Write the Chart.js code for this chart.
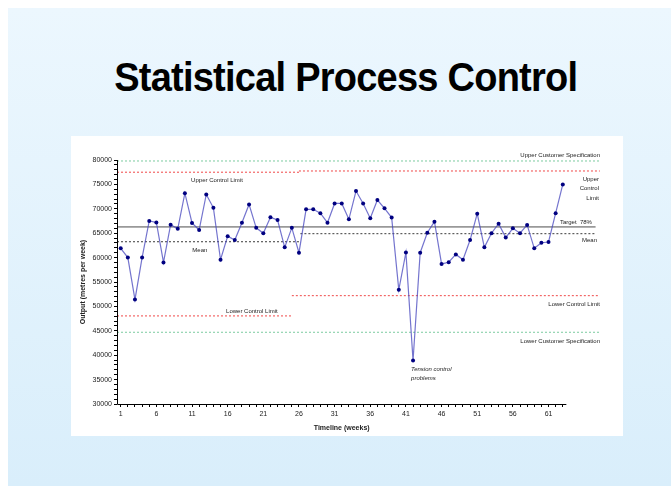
<!DOCTYPE html>
<html lang="en">
<head>
<meta charset="UTF-8">
<title>Statistical Process Control</title>
<script src="https://cdn.jsdelivr.net/npm/chart.js"></script>
<style>
    body { margin: 0; background: #fff; font-family: "Liberation Sans", Arial, sans-serif; }
    .slide { position: absolute; left: 8px; top: 8px; width: 663px; height: 478px;
             background: linear-gradient(#ecf7fe, #d9eefb); }
    .title { position: absolute; left: 0; top: 57px; width: 692px; text-align: center;
             font-size: 40px; line-height: 40px; font-weight: bold; color: #000; }
    .title span { display: inline-block; transform: scaleX(0.95); letter-spacing: -0.8px; }
    .box { position: absolute; left: 71px; top: 136px; width: 552px; height: 300px; background: #fff; }
</style>
</head>
<body>
<div class="slide"></div>
<div class="title"><span>Statistical Process Control</span></div>
<div class="box"><canvas id="spc"></canvas></div>
<script>
// weekly output, weeks 1..63
const output = [61900, 60000, 51400, 60000, 67500, 67200, 59000, 66750, 65900, 73200,
                67100, 65650, 72950, 70200, 59550, 64400, 63600, 67150, 70900, 66100,
                65000, 68250, 67700, 62100, 66100, 61000, 69900, 69900, 69100, 67150,
                71100, 71100, 67850, 73650, 71100, 68050, 71800, 70100, 68200, 53400,
                61050, 38900, 61000, 65100, 67350, 58700, 59050, 60650, 59550, 63600,
                69000, 62100, 65000, 66950, 64100, 66000, 65000, 66700, 61900, 63050,
                63200, 69100, 75000];
const weeks = output.map((v, i) => i + 1);

// x range of the plot and of the horizontal reference lines
const xMin = 0.48, xMax = 68.5, lastWeek = 63.5;
const upperSpec = 79800, lowerSpec = 44700;
const target = 66300;
const uclValues = [77500, 77750], uclSplit = 26;
const meanValues = [63250, 64900], meanSplit = 26;
const lclValues = [48050, 52200], lclSplit = 25;
const lineEnd = 68.2, innerEnd = 67.6;

function refLine(from, to, value, color, dash, width) {
    return {
        data: [{x: from, y: value}, {x: to, y: value}],
        borderColor: color, borderWidth: width || 1, borderDash: dash || [],
        pointRadius: 0, fill: false, order: 2
    };
}

const green = '#7ccba0', red = '#f04848', meanCol = '#3a3a3a';

const labelFont = '6px "Liberation Sans", Arial, sans-serif';
const textPlugin = {
    id: 'spcText',
    afterDatasetsDraw(chart) {
        const {ctx, chartArea} = chart;
        const x = chart.scales.x, y = chart.scales.y;
        const right = chartArea.right - 2;
        ctx.save();
        ctx.fillStyle = '#222';
        ctx.font = labelFont;
        ctx.textBaseline = 'middle';

        ctx.textAlign = 'right';
        ctx.fillText('Upper Customer Specification', right, y.getPixelForValue(upperSpec) - 6);
        ctx.fillText('Upper', right - 1, y.getPixelForValue(uclValues[1]) + 8);
        ctx.fillText('Control', right - 1, y.getPixelForValue(uclValues[1]) + 17.5);
        ctx.fillText('Limit', right - 1, y.getPixelForValue(uclValues[1]) + 27);
        ctx.fillText('Mean', right - 3, y.getPixelForValue(meanValues[1]) + 6.5);
        ctx.fillText('Lower Control Limit', right, y.getPixelForValue(lclValues[1]) + 8.5);
        ctx.fillText('Lower Customer Specification', right, y.getPixelForValue(lowerSpec) + 9);

        ctx.textAlign = 'left';
        ctx.fillText('Target  78%', x.getPixelForValue(62.6), y.getPixelForValue(target) - 5);

        ctx.textAlign = 'center';
        ctx.fillText('Upper Control Limit', x.getPixelForValue(14.5), y.getPixelForValue(uclValues[0]) + 8);
        ctx.fillText('Mean', x.getPixelForValue(12.1), y.getPixelForValue(meanValues[0]) + 8.5);
        ctx.fillText('Lower Control Limit', x.getPixelForValue(19.4), y.getPixelForValue(lclValues[0]) - 4.5);

        ctx.textAlign = 'left';
        ctx.font = 'italic ' + labelFont;
        const lowIdx = output.indexOf(Math.min(...output));
        const px = x.getPixelForValue(weeks[lowIdx]) - 2;
        const py = y.getPixelForValue(output[lowIdx]);
        ctx.fillText('Tension control', px, py + 8.5);
        ctx.fillText('problems', px, py + 18);

        // axis lines
        ctx.strokeStyle = '#000';
        ctx.lineWidth = 1;
        ctx.beginPath();
        ctx.moveTo(chartArea.left + 0.5, chartArea.top);
        ctx.lineTo(chartArea.left + 0.5, chartArea.bottom + 0.5);
        ctx.lineTo(x.getPixelForValue(lastWeek), chartArea.bottom + 0.5);
        ctx.stroke();

        // axis titles
        ctx.font = 'bold 7px "Liberation Sans", Arial, sans-serif';
        ctx.textAlign = 'center';
        const axisMid = (chartArea.left + x.getPixelForValue(lastWeek)) / 2;
        ctx.fillText('Timeline (weeks)', axisMid, chartArea.bottom + 24);
        ctx.translate(12, (chartArea.top + chartArea.bottom) / 2);
        ctx.rotate(-Math.PI / 2);
        ctx.fillText('Output (metres per week)', 0, 0);
        ctx.restore();
    }
};

new Chart(document.getElementById('spc'), {
    type: 'line',
    data: {
        datasets: [
            {
                data: output.map((v, i) => ({x: weeks[i], y: v})),
                borderColor: 'rgba(70,70,190,0.75)', borderWidth: 1.2,
                pointBackgroundColor: '#000080', pointBorderColor: '#000080',
                pointRadius: 2, pointBorderWidth: 0, tension: 0, order: 1
            },
            refLine(xMin, lineEnd, upperSpec, green, [2, 2]),
            refLine(xMin, lineEnd, lowerSpec, green, [2, 2]),
            refLine(xMin, uclSplit, uclValues[0], red, [2, 2]),
            refLine(uclSplit, lineEnd, uclValues[1], red, [2, 2]),
            refLine(xMin, lclSplit, lclValues[0], red, [2, 2]),
            refLine(lclSplit, lineEnd, lclValues[1], red, [2, 2]),
            refLine(xMin, innerEnd, target, '#999', [], 1.6),
            refLine(xMin, meanSplit, meanValues[0], meanCol, [2, 2]),
            refLine(meanSplit + 0.2, innerEnd, meanValues[1], meanCol, [2, 2])
        ]
    },
    options: {
        responsive: true,
        maintainAspectRatio: false,
        animation: false,
        layout: { padding: { top: 24, right: 21, left: 0, bottom: 0 } },
        plugins: { legend: { display: false }, tooltip: { enabled: false } },
        scales: {
            x: {
                type: 'linear', min: xMin, max: xMax,
                afterFit: s => { s.height = 32; },
                border: { display: false },
                grid: { drawOnChartArea: false, tickLength: 3, tickColor: '#000' },
                ticks: {
                    stepSize: 1, includeBounds: false, autoSkip: false, maxRotation: 0,
                    padding: 3, color: '#222',
                    font: { family: '"Liberation Sans", Arial, sans-serif', size: 7 },
                    callback: v => v > lastWeek ? null : ((v - 1) % 5 === 0 ? String(v) : '')
                }
            },
            y: {
                min: 30000, max: 80000,
                afterFit: s => { s.width = 46; },
                border: { display: false },
                grid: { drawOnChartArea: false, tickLength: 3, tickColor: '#000' },
                ticks: {
                    stepSize: 1000, autoSkip: false, padding: 2, color: '#222',
                    font: { family: '"Liberation Sans", Arial, sans-serif', size: 7 },
                    callback: v => v % 5000 === 0 ? String(v) : ''
                }
            }
        }
    },
    plugins: [textPlugin]
});
</script>
</body>
</html>
